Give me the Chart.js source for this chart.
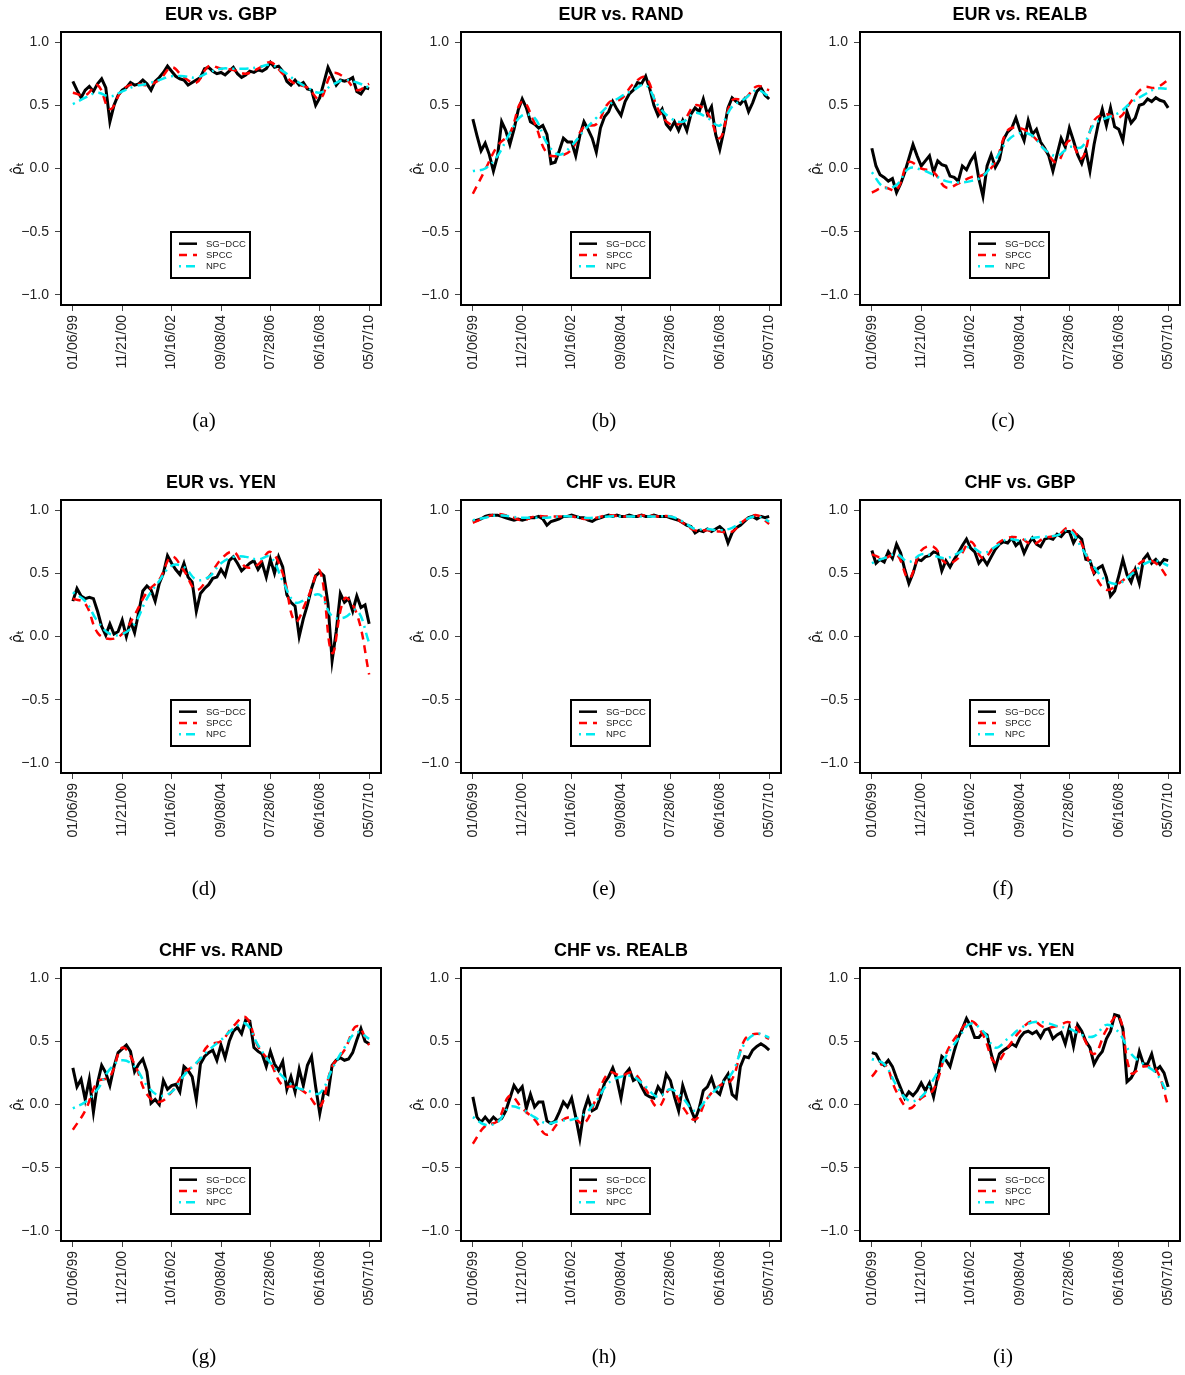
<!DOCTYPE html>
<html>
<head>
<meta charset="utf-8">
<script src="https://cdn.jsdelivr.net/npm/chart.js@4.4.0/dist/chart.umd.min.js"></script>
<style>
  html, body { margin: 0; padding: 0; background: #fff; overflow: hidden; }
  #wrap { position: relative; width: 1185px; height: 1375px; }
  .panel { position: absolute; width: 395px; height: 439px; }
</style>
</head>
<body>
<div id="wrap"></div>
<script>
// ============================
// DATA
// ============================

const dateTicks = ['01/06/99', '11/21/00', '10/16/02', '09/08/04', '07/28/06', '06/16/08', '05/07/10'];
const yTicks = [-1, -0.5, 0, 0.5, 1];

// EUR vs. GBP
const eurGbpDcc = [0.69,0.62,0.56,0.62,0.65,0.61,0.67,0.71,0.64,0.37,0.50,0.58,0.62,0.64,0.68,0.66,0.67,0.70,0.67,0.62,0.69,0.72,0.76,0.81,0.77,0.73,0.71,0.70,0.66,0.68,0.70,0.72,0.79,0.80,0.77,0.75,0.76,0.74,0.77,0.80,0.75,0.72,0.74,0.77,0.76,0.78,0.77,0.79,0.84,0.80,0.81,0.77,0.69,0.66,0.70,0.66,0.68,0.63,0.62,0.50,0.56,0.68,0.80,0.73,0.66,0.70,0.69,0.70,0.72,0.61,0.59,0.64,0.63];
const eurGbpSpcc = [0.60,0.58,0.66,0.47,0.62,0.67,0.66,0.70,0.80,0.72,0.68,0.81,0.79,0.78,0.75,0.79,0.84,0.75,0.67,0.64,0.55,0.75,0.72,0.62,0.67];
const eurGbpNpc = [0.51,0.56,0.60,0.57,0.61,0.65,0.67,0.70,0.73,0.73,0.72,0.76,0.79,0.79,0.79,0.80,0.82,0.77,0.70,0.64,0.60,0.66,0.70,0.68,0.64];

// EUR vs. RAND
const eurRandDcc = [0.39,0.26,0.14,0.20,0.11,-0.02,0.10,0.37,0.30,0.19,0.31,0.46,0.55,0.48,0.37,0.35,0.32,0.34,0.27,0.04,0.05,0.14,0.24,0.21,0.21,0.10,0.26,0.37,0.31,0.24,0.13,0.32,0.41,0.45,0.53,0.47,0.42,0.53,0.59,0.62,0.68,0.67,0.73,0.63,0.50,0.42,0.47,0.35,0.31,0.37,0.30,0.38,0.30,0.43,0.48,0.45,0.55,0.43,0.49,0.27,0.15,0.30,0.48,0.56,0.53,0.51,0.55,0.45,0.52,0.61,0.64,0.58,0.55];
const eurRandSpcc = [-0.20,-0.01,0.18,0.28,0.53,0.36,0.12,0.10,0.15,0.33,0.35,0.52,0.55,0.67,0.72,0.47,0.35,0.37,0.50,0.44,0.24,0.54,0.55,0.65,0.62];
const eurRandNpc = [-0.02,0.00,0.10,0.28,0.42,0.40,0.20,0.11,0.18,0.30,0.40,0.50,0.57,0.62,0.66,0.50,0.40,0.37,0.44,0.40,0.34,0.49,0.55,0.62,0.57];

// EUR vs. REALB
const eurRealbDcc = [0.16,0.02,-0.05,-0.07,-0.10,-0.08,-0.19,-0.12,-0.03,0.08,0.19,0.10,0.02,0.06,0.10,-0.03,0.06,0.03,0.02,-0.06,-0.07,-0.10,0.02,-0.01,0.06,0.11,-0.08,-0.22,0.02,0.11,0.01,0.07,0.23,0.29,0.32,0.40,0.30,0.22,0.38,0.27,0.31,0.21,0.16,0.10,-0.02,0.11,0.24,0.17,0.32,0.22,0.11,0.04,0.14,-0.02,0.19,0.35,0.47,0.34,0.48,0.33,0.31,0.22,0.45,0.36,0.40,0.50,0.51,0.55,0.53,0.56,0.54,0.53,0.48];
const eurRealbSpcc = [-0.19,-0.15,-0.17,0.05,0.00,-0.03,-0.15,-0.12,-0.07,-0.05,0.05,0.30,0.32,0.26,0.15,0.05,0.22,0.08,0.38,0.43,0.40,0.53,0.64,0.64,0.70];
const eurRealbNpc = [-0.03,-0.15,-0.13,0.00,-0.01,-0.05,-0.10,-0.11,-0.10,-0.06,0.07,0.22,0.28,0.26,0.15,0.10,0.17,0.17,0.35,0.40,0.44,0.52,0.58,0.63,0.63];

// EUR vs. YEN
const eurYenDcc = [0.28,0.38,0.32,0.30,0.31,0.30,0.20,0.08,0.01,0.10,0.02,0.04,0.13,0.00,0.12,0.03,0.19,0.36,0.40,0.37,0.28,0.42,0.50,0.64,0.58,0.53,0.49,0.58,0.47,0.43,0.20,0.34,0.38,0.41,0.46,0.47,0.53,0.48,0.60,0.63,0.58,0.52,0.55,0.58,0.60,0.53,0.58,0.47,0.61,0.50,0.63,0.55,0.33,0.27,0.24,0.00,0.14,0.25,0.38,0.48,0.51,0.48,0.26,-0.19,0.04,0.34,0.27,0.30,0.20,0.32,0.23,0.25,0.10];
const eurYenSpcc = [0.30,0.26,0.03,-0.02,0.02,0.17,0.35,0.45,0.63,0.52,0.37,0.47,0.61,0.67,0.55,0.57,0.67,0.50,0.12,0.30,0.52,-0.13,0.30,0.18,-0.30];
const eurYenNpc = [0.35,0.28,0.12,0.02,0.02,0.10,0.30,0.44,0.56,0.55,0.45,0.47,0.58,0.63,0.63,0.61,0.63,0.44,0.27,0.30,0.33,0.16,0.15,0.21,-0.05];

// CHF vs. EUR
const chfEurDcc = [0.91,0.92,0.93,0.95,0.96,0.96,0.96,0.95,0.94,0.93,0.92,0.93,0.92,0.93,0.94,0.94,0.95,0.93,0.88,0.91,0.92,0.93,0.95,0.95,0.96,0.95,0.94,0.94,0.92,0.91,0.93,0.94,0.95,0.96,0.95,0.96,0.95,0.95,0.96,0.95,0.95,0.96,0.95,0.95,0.96,0.95,0.95,0.95,0.94,0.93,0.92,0.90,0.88,0.87,0.82,0.84,0.83,0.85,0.83,0.85,0.87,0.84,0.74,0.82,0.86,0.88,0.91,0.94,0.95,0.93,0.95,0.94,0.95];
const chfEurSpcc = [0.90,0.94,0.97,0.95,0.92,0.95,0.95,0.95,0.95,0.93,0.94,0.96,0.95,0.95,0.96,0.95,0.95,0.90,0.84,0.84,0.83,0.83,0.92,0.96,0.89];
const chfEurNpc = [0.92,0.94,0.96,0.95,0.94,0.94,0.94,0.95,0.95,0.94,0.94,0.95,0.95,0.95,0.95,0.95,0.95,0.91,0.85,0.85,0.84,0.86,0.92,0.95,0.91];

// CHF vs. GBP
const chfGbpDcc = [0.68,0.58,0.61,0.59,0.67,0.62,0.73,0.66,0.53,0.42,0.50,0.61,0.60,0.63,0.64,0.67,0.66,0.52,0.60,0.55,0.61,0.66,0.72,0.77,0.70,0.67,0.58,0.62,0.57,0.63,0.69,0.73,0.75,0.74,0.78,0.72,0.75,0.66,0.73,0.78,0.73,0.71,0.77,0.78,0.77,0.81,0.79,0.83,0.83,0.74,0.80,0.77,0.61,0.60,0.50,0.54,0.56,0.47,0.32,0.36,0.48,0.61,0.49,0.43,0.53,0.42,0.61,0.65,0.58,0.61,0.57,0.61,0.60];
const chfGbpSpcc = [0.65,0.62,0.65,0.46,0.68,0.71,0.58,0.62,0.75,0.62,0.72,0.78,0.78,0.73,0.78,0.80,0.86,0.73,0.50,0.37,0.42,0.50,0.60,0.58,0.46];
const chfGbpNpc = [0.58,0.62,0.65,0.59,0.65,0.64,0.62,0.66,0.71,0.66,0.71,0.77,0.76,0.78,0.79,0.80,0.84,0.70,0.55,0.44,0.42,0.49,0.57,0.60,0.56];

// CHF vs. RAND
const chfRandDcc = [0.29,0.14,0.20,0.04,0.20,-0.06,0.17,0.31,0.25,0.15,0.30,0.41,0.44,0.47,0.42,0.26,0.32,0.36,0.26,0.01,0.04,0.00,0.19,0.12,0.15,0.16,0.10,0.30,0.27,0.22,0.04,0.32,0.38,0.41,0.43,0.35,0.47,0.37,0.50,0.58,0.61,0.56,0.67,0.66,0.45,0.42,0.40,0.30,0.42,0.32,0.27,0.34,0.12,0.22,0.10,0.28,0.15,0.31,0.38,0.14,-0.07,0.10,0.08,0.31,0.35,0.37,0.35,0.36,0.41,0.51,0.60,0.50,0.48];
const chfRandSpcc = [-0.20,-0.05,0.18,0.22,0.45,0.32,0.08,0.02,0.10,0.25,0.32,0.47,0.50,0.62,0.69,0.46,0.33,0.15,0.14,0.08,-0.02,0.30,0.43,0.62,0.47];
const chfRandNpc = [-0.03,0.02,0.12,0.28,0.35,0.30,0.15,0.07,0.10,0.23,0.33,0.43,0.51,0.60,0.64,0.47,0.33,0.22,0.14,0.11,0.09,0.28,0.45,0.57,0.52];

// CHF vs. REALB
const chfRealbDcc = [0.06,-0.10,-0.14,-0.10,-0.14,-0.10,-0.13,-0.11,-0.05,0.05,0.15,0.10,0.14,-0.03,0.08,-0.02,0.02,0.02,-0.13,-0.15,-0.13,-0.06,0.02,-0.02,0.05,-0.10,-0.27,-0.05,0.05,-0.05,-0.03,0.06,0.17,0.22,0.29,0.20,0.05,0.24,0.28,0.19,0.21,0.14,0.08,0.06,0.05,0.14,0.09,0.24,0.19,0.06,-0.05,0.15,0.05,-0.04,-0.12,-0.03,0.11,0.14,0.21,0.11,0.08,0.19,0.24,0.08,0.05,0.30,0.38,0.37,0.43,0.46,0.48,0.46,0.43];
const chfRealbSpcc = [-0.31,-0.17,-0.13,0.07,-0.03,-0.12,-0.24,-0.14,-0.10,-0.15,0.05,0.25,0.23,0.25,0.12,-0.02,0.12,-0.02,-0.12,0.05,0.15,0.20,0.51,0.56,0.52];
const chfRealbNpc = [-0.10,-0.16,-0.14,-0.02,-0.04,-0.10,-0.15,-0.13,-0.12,-0.08,0.03,0.17,0.22,0.22,0.14,0.06,0.12,0.05,-0.05,0.05,0.15,0.25,0.48,0.56,0.53];

// CHF vs. YEN
const chfYenDcc = [0.41,0.40,0.34,0.31,0.35,0.30,0.21,0.13,0.05,0.10,0.07,0.11,0.17,0.11,0.17,0.06,0.22,0.38,0.35,0.30,0.42,0.53,0.60,0.68,0.62,0.53,0.53,0.57,0.55,0.40,0.29,0.40,0.43,0.45,0.48,0.46,0.53,0.57,0.58,0.56,0.58,0.53,0.59,0.60,0.52,0.55,0.57,0.48,0.61,0.46,0.63,0.58,0.50,0.45,0.32,0.38,0.42,0.52,0.58,0.71,0.70,0.60,0.18,0.21,0.27,0.42,0.32,0.32,0.40,0.27,0.30,0.25,0.14];
const chfYenSpcc = [0.22,0.32,0.10,-0.03,0.05,0.12,0.40,0.56,0.66,0.55,0.33,0.45,0.58,0.66,0.61,0.62,0.65,0.55,0.40,0.59,0.70,0.25,0.30,0.28,-0.01];
const chfYenNpc = [0.36,0.32,0.15,0.03,0.06,0.20,0.38,0.52,0.64,0.58,0.45,0.52,0.60,0.65,0.65,0.62,0.60,0.55,0.54,0.63,0.57,0.40,0.32,0.25,0.08];

const panels = [
    { title: 'EUR vs. GBP',   caption: '(a)', dcc: eurGbpDcc,   spcc: eurGbpSpcc,   npc: eurGbpNpc },
    { title: 'EUR vs. RAND',  caption: '(b)', dcc: eurRandDcc,  spcc: eurRandSpcc,  npc: eurRandNpc },
    { title: 'EUR vs. REALB', caption: '(c)', dcc: eurRealbDcc, spcc: eurRealbSpcc, npc: eurRealbNpc },
    { title: 'EUR vs. YEN',   caption: '(d)', dcc: eurYenDcc,   spcc: eurYenSpcc,   npc: eurYenNpc },
    { title: 'CHF vs. EUR',   caption: '(e)', dcc: chfEurDcc,   spcc: chfEurSpcc,   npc: chfEurNpc },
    { title: 'CHF vs. GBP',   caption: '(f)', dcc: chfGbpDcc,   spcc: chfGbpSpcc,   npc: chfGbpNpc },
    { title: 'CHF vs. RAND',  caption: '(g)', dcc: chfRandDcc,  spcc: chfRandSpcc,  npc: chfRandNpc },
    { title: 'CHF vs. REALB', caption: '(h)', dcc: chfRealbDcc, spcc: chfRealbSpcc, npc: chfRealbNpc },
    { title: 'CHF vs. YEN',   caption: '(i)', dcc: chfYenDcc,   spcc: chfYenSpcc,   npc: chfYenNpc }
];


// ============================
// LAYOUT / STYLE
// ============================

const W = 395, H = 439;
const colLeft = [0, 400, 799];
const rowTop = [0, 468, 936];
const sans = '"Liberation Sans", Arial, Helvetica, sans-serif';

const RED_DASH = [8, 6];
const CYAN_DASH = [2, 5, 9, 5];

// spread a series evenly over the 7 date ticks (index 0..6)
const toPoints = arr => arr.map((v, i) => ({ x: i * 6 / (arr.length - 1), y: v }));


// box, title, y label, legend and caption
const panelDeco = {
    id: 'panelDeco',
    afterDraw(chart, args, opts) {
        const ctx = chart.ctx;
        const a = chart.chartArea;
        ctx.save();

        ctx.strokeStyle = '#000';
        ctx.lineWidth = 2;
        ctx.setLineDash([]);
        ctx.strokeRect(a.left, a.top, a.right - a.left, a.bottom - a.top);

        ctx.fillStyle = '#000';
        ctx.textAlign = 'center';
        ctx.textBaseline = 'middle';
        ctx.font = 'bold 18px ' + sans;
        ctx.fillText(opts.title, (a.left + a.right) / 2, 15);

        // rho hat sub t
        ctx.save();
        ctx.translate(17, (a.top + a.bottom) / 2);
        ctx.rotate(-Math.PI / 2);
        ctx.font = '14px "DejaVu Sans", sans-serif';
        ctx.fillText('\u03C1\u0302', -2, 0);
        ctx.font = '9px "DejaVu Sans", sans-serif';
        ctx.fillText('t', 4, 4);
        ctx.restore();

        // legend
        const lx = a.left + 110, ly = a.top + 200;
        ctx.lineWidth = 2;
        ctx.strokeRect(lx, ly, 79, 46);
        const rows = [
            { label: 'SG\u2212DCC', color: '#000', width: 2.5, dash: [] },
            { label: 'SPCC', color: '#ff0000', width: 2.5, dash: RED_DASH },
            { label: 'NPC', color: '#00eaf0', width: 2.5, dash: CYAN_DASH }
        ];
        ctx.font = '9.5px ' + sans;
        ctx.textAlign = 'left';
        rows.forEach((r, i) => {
            const yy = ly + 11.7 + i * 11.3;
            ctx.strokeStyle = r.color;
            ctx.lineWidth = r.width;
            ctx.setLineDash(r.dash);
            ctx.beginPath();
            ctx.moveTo(lx + 8, yy);
            ctx.lineTo(lx + 26, yy);
            ctx.stroke();
            ctx.fillStyle = '#222';
            ctx.fillText(r.label, lx + 35, yy + 0.5);
        });
        ctx.setLineDash([]);

        // caption
        ctx.fillStyle = '#000';
        ctx.textAlign = 'center';
        ctx.font = '21px "Liberation Serif", "Times New Roman", serif';
        ctx.fillText(opts.caption, 204, 421);

        ctx.restore();
    }
};


// ============================
// CHARTS
// ============================

const wrap = document.getElementById('wrap');

panels.forEach((p, n) => {

    const div = document.createElement('div');
    div.className = 'panel';
    div.style.left = colLeft[n % 3] + 'px';
    div.style.top = rowTop[Math.floor(n / 3)] + 'px';

    const canvas = document.createElement('canvas');
    canvas.width = W;
    canvas.height = H;
    div.appendChild(canvas);
    wrap.appendChild(div);

    new Chart(canvas.getContext('2d'), {

        type: 'line',

        data: {
            datasets: [
                {
                    label: 'SG-DCC',
                    data: toPoints(p.dcc),
                    borderColor: '#000',
                    borderWidth: 3,
                    pointRadius: 0,
                    tension: 0,
                    order: 3
                },
                {
                    label: 'SPCC',
                    data: toPoints(p.spcc),
                    borderColor: '#ff0000',
                    borderWidth: 2.5,
                    borderDash: RED_DASH,
                    pointRadius: 0,
                    tension: 0.4,
                    order: 2
                },
                {
                    label: 'NPC',
                    data: toPoints(p.npc),
                    borderColor: '#00eaf0',
                    borderWidth: 2.5,
                    borderDash: CYAN_DASH,
                    pointRadius: 0,
                    tension: 0.4,
                    order: 1
                }
            ]
        },

        options: {
            responsive: false,
            animation: false,
            events: [],
            layout: {
                padding: { top: 32, right: W - 381, left: 0, bottom: 0 }
            },
            plugins: {
                legend: { display: false },
                tooltip: { enabled: false },
                panelDeco: { title: p.title, caption: p.caption }
            },
            scales: {
                x: {
                    type: 'linear',
                    min: -0.24,
                    max: 6.24,
                    afterBuildTicks: s => { s.ticks = dateTicks.map((d, i) => ({ value: i })); },
                    afterFit: s => { s.height = H - 305; },
                    ticks: {
                        callback: v => dateTicks[v],
                        autoSkip: false,
                        minRotation: 90,
                        maxRotation: 90,
                        padding: 4,
                        color: '#222',
                        font: { size: 14, family: sans }
                    },
                    grid: { drawOnChartArea: false, drawTicks: true, tickLength: 6, color: '#444' },
                    border: { display: false }
                },
                y: {
                    min: -1.08,
                    max: 1.08,
                    afterBuildTicks: s => { s.ticks = yTicks.map(v => ({ value: v })); },
                    afterFit: s => { s.width = 61; },
                    ticks: {
                        callback: v => v.toFixed(1).replace('-', '\u2212'),
                        padding: 6,
                        color: '#222',
                        font: { size: 14, family: sans }
                    },
                    grid: { drawOnChartArea: false, drawTicks: true, tickLength: 6, color: '#444' },
                    border: { display: false }
                }
            }
        },

        plugins: [panelDeco]

    });

});
</script>
</body>
</html>
